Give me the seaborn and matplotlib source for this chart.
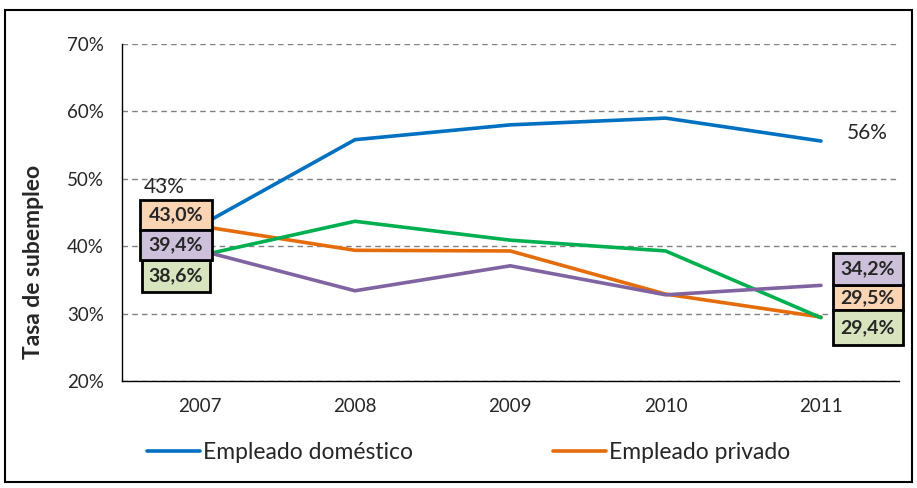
import numpy as np
import pandas as pd
import seaborn as sns
import matplotlib.pyplot as plt
from matplotlib.lines import Line2D
from matplotlib.patches import Rectangle

years = ['2007', '2008', '2009', '2010', '2011']
domestico = [43.0, 55.8, 58.0, 59.0, 55.6]
privado = [43.0, 39.4, 39.3, 32.9, 29.5]
serie_verde = [38.6, 43.7, 40.9, 39.3, 29.4]
serie_morada = [39.4, 33.4, 37.1, 32.8, 34.2]

names = ['Empleado doméstico', 'Empleado privado', 'Serie verde', 'Serie morada']
colors = ['#0070C0', '#E46C0A', '#00B050', '#8064A2']

rows = []
for name, vals in zip(names, [domestico, privado, serie_verde, serie_morada]):
    for i, v in enumerate(vals):
        rows.append({'pos': i, 'serie': name, 'tasa': v / 100})
df = pd.DataFrame(rows)

sns.set_style('white')
plt.rcParams['font.family'] = ['Lato', 'DejaVu Sans']

fig = plt.figure(figsize=(9.17, 4.88), dpi=100)
ax = fig.add_axes([0.133, 0.219, 0.847, 0.691])

sns.lineplot(data=df, x='pos', y='tasa', hue='serie', palette=colors,
             linewidth=2.6, legend=False, ax=ax)

ax.set_xlim(-0.5, 4.5)
ax.set_ylim(0.2, 0.7)
ax.set_yticks(np.arange(0.2, 0.71, 0.1))
ax.set_yticklabels([f'{int(round(t*100))}%' for t in np.arange(0.2, 0.71, 0.1)], fontsize=13.5)
ax.set_xticks(range(5))
ax.set_xticklabels(years, fontsize=13.5)
ax.set_xticks(np.arange(-0.5, 4.6, 1), minor=True)
ax.tick_params(axis='x', which='major', length=0, pad=12)
ax.tick_params(axis='x', which='minor', length=6, width=1, color='black', direction='out')
ax.tick_params(axis='y', length=6, width=1, color='black', direction='out', pad=7)
ax.yaxis.grid(True, linestyle=(0, (4, 3)), color='#808080', linewidth=1)
ax.xaxis.grid(False)
ax.set_axisbelow(True)
for s in ['top', 'right']:
    ax.spines[s].set_visible(False)
for s in ['left', 'bottom']:
    ax.spines[s].set_color('black')
    ax.spines[s].set_linewidth(1)
ax.set_xlabel('')
ax.set_ylabel('Tasa de subempleo', fontsize=16.5, fontweight='bold')
ax.yaxis.set_label_coords(-0.101, 0.353)

fills = {'privado': '#FBD4B4', 'verde': '#D7E4BD', 'morada': '#CCC0DA'}

def box(x0, x1, y0, y1, txt, fc):
    ax.add_patch(Rectangle((x0, y0), x1 - x0, y1 - y0, fc=fc, ec='black', lw=2,
                           clip_on=False, zorder=5))
    ax.text((x0 + x1) / 2, (y0 + y1) / 2, txt, ha='center', va='center',
            fontsize=14, fontweight='bold', zorder=6, clip_on=False)

# left labels
ax.text(-0.23, 0.488, '43%', ha='center', va='center', fontsize=15)
box(-0.384, 0.079, 0.424, 0.4686, '43,0%', fills['privado'])
box(-0.371, 0.066, 0.332, 0.3795, '38,6%', fills['verde'])
box(-0.384, 0.079, 0.3795, 0.424, '39,4%', fills['morada'])

# right labels
ax.text(4.30, 0.568, '56%', ha='center', va='center', fontsize=15)
box(4.075, 4.526, 0.305, 0.342, '29,5%', fills['privado'])
box(4.075, 4.526, 0.2534, 0.305, '29,4%', fills['verde'])
box(4.075, 4.526, 0.342, 0.390, '34,2%', fills['morada'])

handles = [Line2D([], [], color=colors[0], lw=2.6), Line2D([], [], color=colors[1], lw=2.6)]
fig.legend(handles, names[:2], loc='center left', bbox_to_anchor=(0.138, 0.072),
           ncol=2, frameon=False, fontsize=16.5, handlelength=2.3, handletextpad=0.15,
           columnspacing=6.1)

fig.add_artist(Rectangle((0.005, 0.012), 0.99, 0.968, transform=fig.transFigure,
                         fill=False, ec='black', lw=1.5))

fig.savefig('out.png', dpi=100)
